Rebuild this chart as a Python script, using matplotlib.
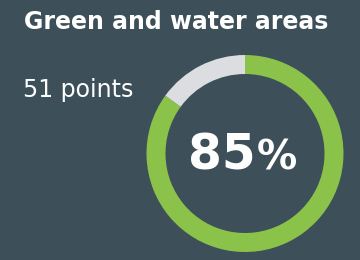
import matplotlib
matplotlib.use("Agg")
import matplotlib.pyplot as plt

# données
title = "Green and water areas"
points_label = "51 points"
share = [85, 15]          # part verte / reste
colors = ["#8bc34a", "#dcdde0"]
bg = "#3d4f58"

W, H = 360, 260
fig = plt.figure(figsize=(W / 100, H / 100), dpi=100)
fig.patch.set_facecolor(bg)

def px(x, y):
    # coordonnées pixel (origine en haut à gauche) -> coordonnées figure
    return x / W, 1 - y / H

# anneau
cx, cy, r = 245, 153.5, 98.5
ax = fig.add_axes([(cx - r) / W, (H - cy - r) / H, 2 * r / W, 2 * r / H])
ax.pie(share, colors=colors, startangle=90, counterclock=False,
       wedgeprops=dict(width=19 / r, linewidth=0))
ax.set_xlim(-1, 1)
ax.set_ylim(-1, 1)
ax.set_aspect("equal")
ax.axis("off")

# textes
fig.text(*px(24, 29), title, color="white", fontsize=17, fontweight="bold",
         ha="left", va="baseline")
fig.text(*px(23, 97), points_label, color="white", fontsize=17,
         ha="left", va="baseline")
fig.text(*px(256, 170), f"{share[0]}", color="white", fontsize=35,
         fontweight="bold", ha="right", va="baseline")
fig.text(*px(257, 170), "%", color="white", fontsize=29,
         fontweight="bold", ha="left", va="baseline")

fig.savefig("out.png", dpi=100, facecolor=bg)
